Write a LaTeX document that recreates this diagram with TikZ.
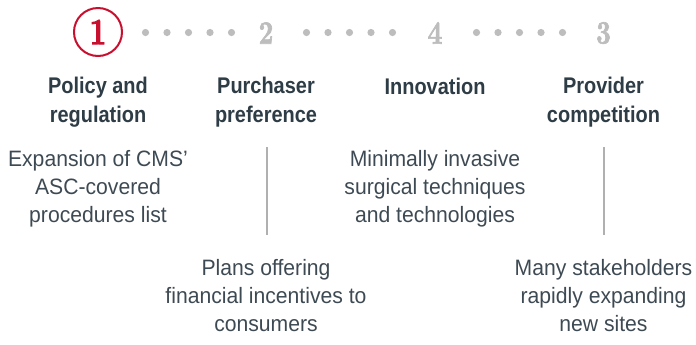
\documentclass[tikz,border=0pt]{standalone}
\usepackage{fontspec}
\usepackage{tikz}
\newfontfamily\headfont[FakeStretch=0.88]{Liberation Sans}
\newfontfamily\bodyfont[FakeStretch=0.95]{Liberation Sans}
\newfontfamily\numfont[FakeStretch=0.78,FakeBold=2]{lmroman10-bold.otf}
\definecolor{stepred}{HTML}{C8102E}
\definecolor{stepgray}{HTML}{BDBDBD}
\definecolor{headtxt}{HTML}{2E3C46}
\definecolor{bodytxt}{HTML}{3E4A53}
\definecolor{rulegray}{HTML}{B0B0B0}
\tikzset{
  heading/.style={anchor=base,align=center,inner sep=0.75pt,text=headtxt,
    font=\headfont\bfseries\fontsize{17}{21.4}\selectfont},
  bodytext/.style={anchor=base,align=center,inner sep=0.75pt,text=bodytxt,
    font=\bodyfont\fontsize{16.7}{21}\selectfont},
  stepnum/.style={inner sep=0pt,text=stepgray,
    font=\numfont\fontsize{24.5}{24.5}\selectfont},
}
\begin{document}
\begin{tikzpicture}[x=0.75pt,y=0.75pt,yscale=-1,xscale=1]
\useasboundingbox (0,0) rectangle (696,344);
% step numbers
\draw [stepred, line width=1.5pt] (98,32) circle (24);
\draw (98,32) node [stepnum, text=stepred, font=\numfont\fontsize{28}{28}\selectfont] (num1) {1};
\draw (266,33) node [stepnum] (num2) {2};
\draw (435,33) node [stepnum] (num4) {4};
\draw (603.5,33) node [stepnum] (num3) {3};
% dotted links
\foreach \cx in {188.5,349.5,519.5}
  \foreach \k in {-2,...,2}
    \fill [stepgray] (\cx+\k*21.5,32.5) circle (3.6);
% headings (anchored at last baseline)
\draw (98,122.5) node [heading] (head1) {Policy and\\regulation};
\draw (266,122.5) node [heading] (head2) {Purchaser\\preference};
\draw (435,94) node [heading] (head4) {Innovation};
\draw (603.5,122.5) node [heading] (head3) {Provider\\competition};
% drivers
\draw (98,222) node [bodytext] (body1) {Expansion of CMS’\\ASC-covered\\procedures list};
\draw (266,331) node [bodytext] (body2) {Plans offering\\financial incentives to\\consumers};
\draw (435,222) node [bodytext] (body4) {Minimally invasive\\surgical techniques\\and technologies};
\draw (603.5,331) node [bodytext] (body3) {Many stakeholders\\rapidly expanding\\new sites};
% rules
\coordinate (rule2a) at (267,147);
\coordinate (rule2b) at (267,235);
\coordinate (rule3a) at (604,147);
\coordinate (rule3b) at (604,235);
\draw [rulegray, line width=0.9pt] (rule2a) -- (rule2b);
\draw [rulegray, line width=0.9pt] (rule3a) -- (rule3b);
\end{tikzpicture}
\end{document}
